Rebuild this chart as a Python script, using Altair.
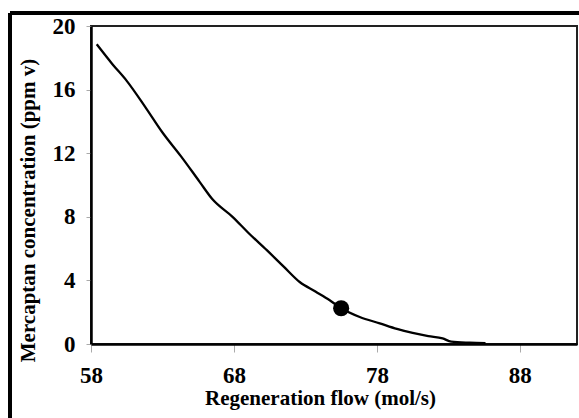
import altair as alt
import pandas as pd

flow = [58.4, 59.5, 60.5, 61.8, 63.0, 64.3, 65.6, 66.5, 67.9, 69.0, 70.3, 71.5,
        72.6, 73.7, 74.7, 75.5, 76.8, 78.2, 79.4, 80.5, 81.6, 82.6, 83.2, 84.5, 85.6]
merc = [18.85, 17.6, 16.55, 14.9, 13.3, 11.8, 10.2, 9.1, 8.0, 7.0, 5.9, 4.85,
        3.9, 3.3, 2.75, 2.25, 1.7, 1.3, 0.95, 0.7, 0.5, 0.35, 0.15, 0.08, 0.05]
point_flow = [75.5]
point_merc = [2.25]
x_ticks = [58, 68, 78, 88]
y_ticks = [0, 4, 8, 12, 16, 20]

df = pd.DataFrame({"flow": flow, "merc": merc})
dp = pd.DataFrame({"flow": point_flow, "merc": point_merc})

FONT = "Liberation Serif"
W, H = 486, 318

xscale = alt.Scale(domain=[58, 92], nice=False, zero=False)
yscale = alt.Scale(domain=[0, 20], nice=False)

xaxis = alt.Axis(values=x_ticks, title="Regeneration flow (mol/s)", grid=False,
                 tickSize=8, tickColor="#aaaaaa", tickWidth=1,
                 domainColor="black", domainWidth=2.5,
                 labelFont=FONT, labelFontSize=23, labelFontWeight="bold", labelColor="black",
                 labelPadding=12, labelFlush=False, labelOverlap=False,
                 titleFont=FONT, titleFontSize=21, titleFontWeight="bold", titleColor="black",
                 titleBaseline="alphabetic", titleX=229, titleY=60, titleAnchor="start",
                 titleAlign="center")
yaxis = alt.Axis(values=y_ticks, title="Mercaptan concentration (ppm v)", grid=False,
                 tickSize=5, tickColor="#aaaaaa", tickWidth=1,
                 domainColor="black", domainWidth=2.5,
                 labelFont=FONT, labelFontSize=23, labelFontWeight="bold", labelColor="black",
                 labelPadding=11, labelFlush=False, labelOverlap=False,
                 titleFont=FONT, titleFontSize=21, titleFontWeight="bold", titleColor="black",
                 titleBaseline="middle", titleX=-63, titleY=184, titleAngle=270,
                 titleAlign="center")

line = alt.Chart(df).mark_line(color="black", strokeWidth=2.3, interpolate="monotone").encode(
    x=alt.X("flow:Q", scale=xscale, axis=xaxis),
    y=alt.Y("merc:Q", scale=yscale, axis=yaxis),
)
pt = alt.Chart(dp).mark_circle(color="black", size=260, opacity=1).encode(
    x=alt.X("flow:Q", scale=xscale),
    y=alt.Y("merc:Q", scale=yscale),
)

border_top = alt.Chart(df).mark_rule(color="black", strokeWidth=2.5).encode(
    x=alt.value(-81), x2=alt.value(W + 10), y=alt.value(-13)
)
border_left = alt.Chart(df).mark_rule(color="black", strokeWidth=2.5).encode(
    x=alt.value(-81), y=alt.value(-13), y2=alt.value(H + 80)
)

chart = alt.layer(border_top, border_left, line, pt).properties(
    width=W, height=H,
    padding={"left": 91, "top": 26, "right": 2, "bottom": 74},
    autosize=alt.AutoSizeParams(type="none"),
    background="white",
).configure_view(stroke="#222222", strokeWidth=2)

chart.save("out.html", embed_options={"renderer": "svg", "actions": False})
